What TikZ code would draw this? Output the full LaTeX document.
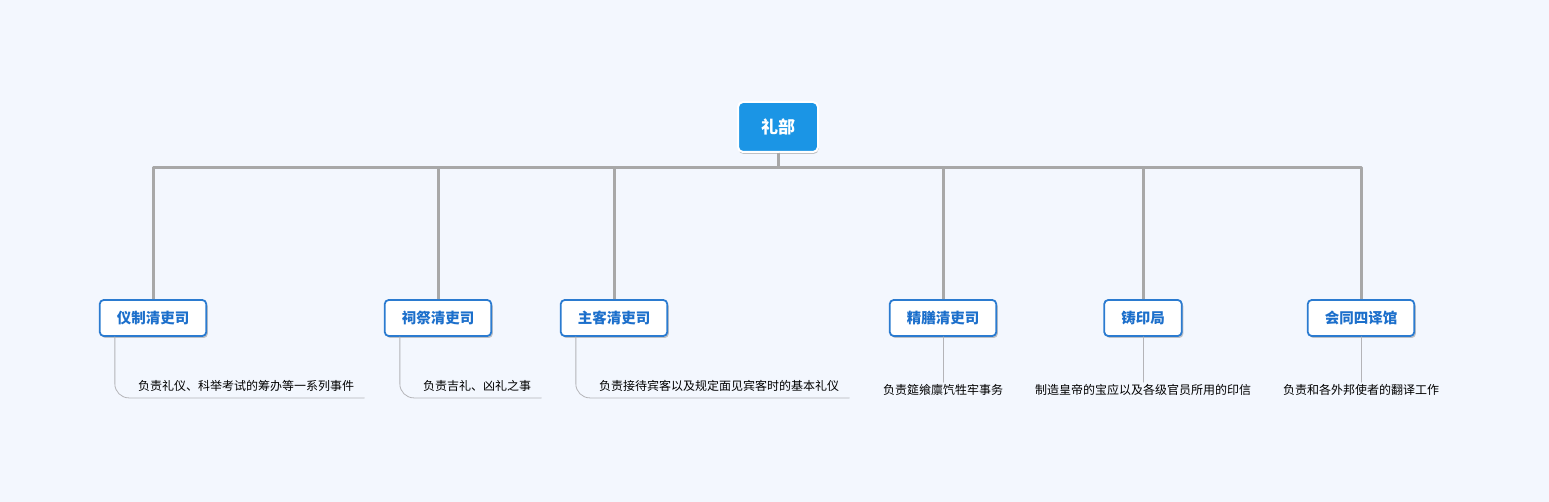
\documentclass[tikz,border=0pt]{standalone}
\usepackage{fontspec}
\setmainfont{Noto Sans CJK SC}
\usetikzlibrary{shadows}
\definecolor{pagebg}{HTML}{F3F7FE}
\definecolor{rootblue}{HTML}{1B95E5}
\definecolor{unitblue}{HTML}{2B7BD0}
\definecolor{unittext}{HTML}{1C6FCB}
\definecolor{trunkgray}{HTML}{A8A8A8}
\definecolor{leafgray}{HTML}{B4B4B8}
\begin{document}
\begin{tikzpicture}[x=1pt, y=-1pt, line join=round, line cap=round,
	rootbox/.style={draw=white, line width=2pt, fill=rootblue, rounded corners=5pt,
		minimum width=80pt, minimum height=50pt, text=white, font=\fontsize{17}{20}\selectfont\bfseries,
		drop shadow={shadow xshift=0.5pt, shadow yshift=-2pt, opacity=0.45, fill=gray}},
	unitbox/.style={draw=unitblue, line width=1.8pt, fill=white, rounded corners=4pt,
		inner xsep=17pt, minimum height=36pt, text=unittext, font=\fontsize{14.5}{17}\selectfont\bfseries,
		drop shadow={shadow xshift=1.5pt, shadow yshift=-2pt, opacity=0.45, fill=gray}},
	dutytext/.style={inner sep=2pt, font=\fontsize{12}{14}\selectfont, text=black},
	trunk/.style={draw=trunkgray, line width=3pt, line cap=butt},
	leaf/.style={draw=leafgray, line width=0.8pt}]
	\fill[pagebg] (0,0) rectangle (1549,502);
	\useasboundingbox (0,0) rectangle (1549,502);
	% root
	\node[rootbox] (root) at (778,127) {礼部};
	% units
	\foreach \n/\x/\t in {yz/153/仪制清吏司, cj/438/祠祭清吏司, zk/614/主客清吏司,
		js/943/精膳清吏司, zy/1143/铸印局, hg/1361/会同四译馆}
		\node[unitbox] (\n) at (\x,318) {\t};
	\path (root.south) ++(0,15) coordinate (bus);
	\foreach \n in {yz,cj,zk,js,zy,hg}
		\draw[trunk] (root.south) -- (bus) -| (\n.north);
	% duties hanging to the right
	\foreach \n/\t in {yz/负责礼仪、科举考试的筹办等一系列事件, cj/负责吉礼、凶礼之事,
		zk/负责接待宾客以及规定面见宾客时的基本礼仪}{
		\node[dutytext, anchor=west] (\n-d) at ([xshift=37pt,yshift=-49pt]\n.south west) {\t};
		\draw[leaf, rounded corners=14pt] ([xshift=16pt]\n.south west) |- ([xshift=8pt,yshift=-12pt]\n-d.east);
	}
	% duties straight below
	\foreach \n/\t in {js/负责筵飨廪饩牲牢事务, zy/制造皇帝的宝应以及各级官员所用的印信,
		hg/负责和各外邦使者的翻译工作}{
		\node[dutytext] (\n-d) at ([yshift=-53pt]\n.south) {\t};
		\draw[leaf] (\n.south) -- (\n-d.north);
	}
\end{tikzpicture}
\end{document}
